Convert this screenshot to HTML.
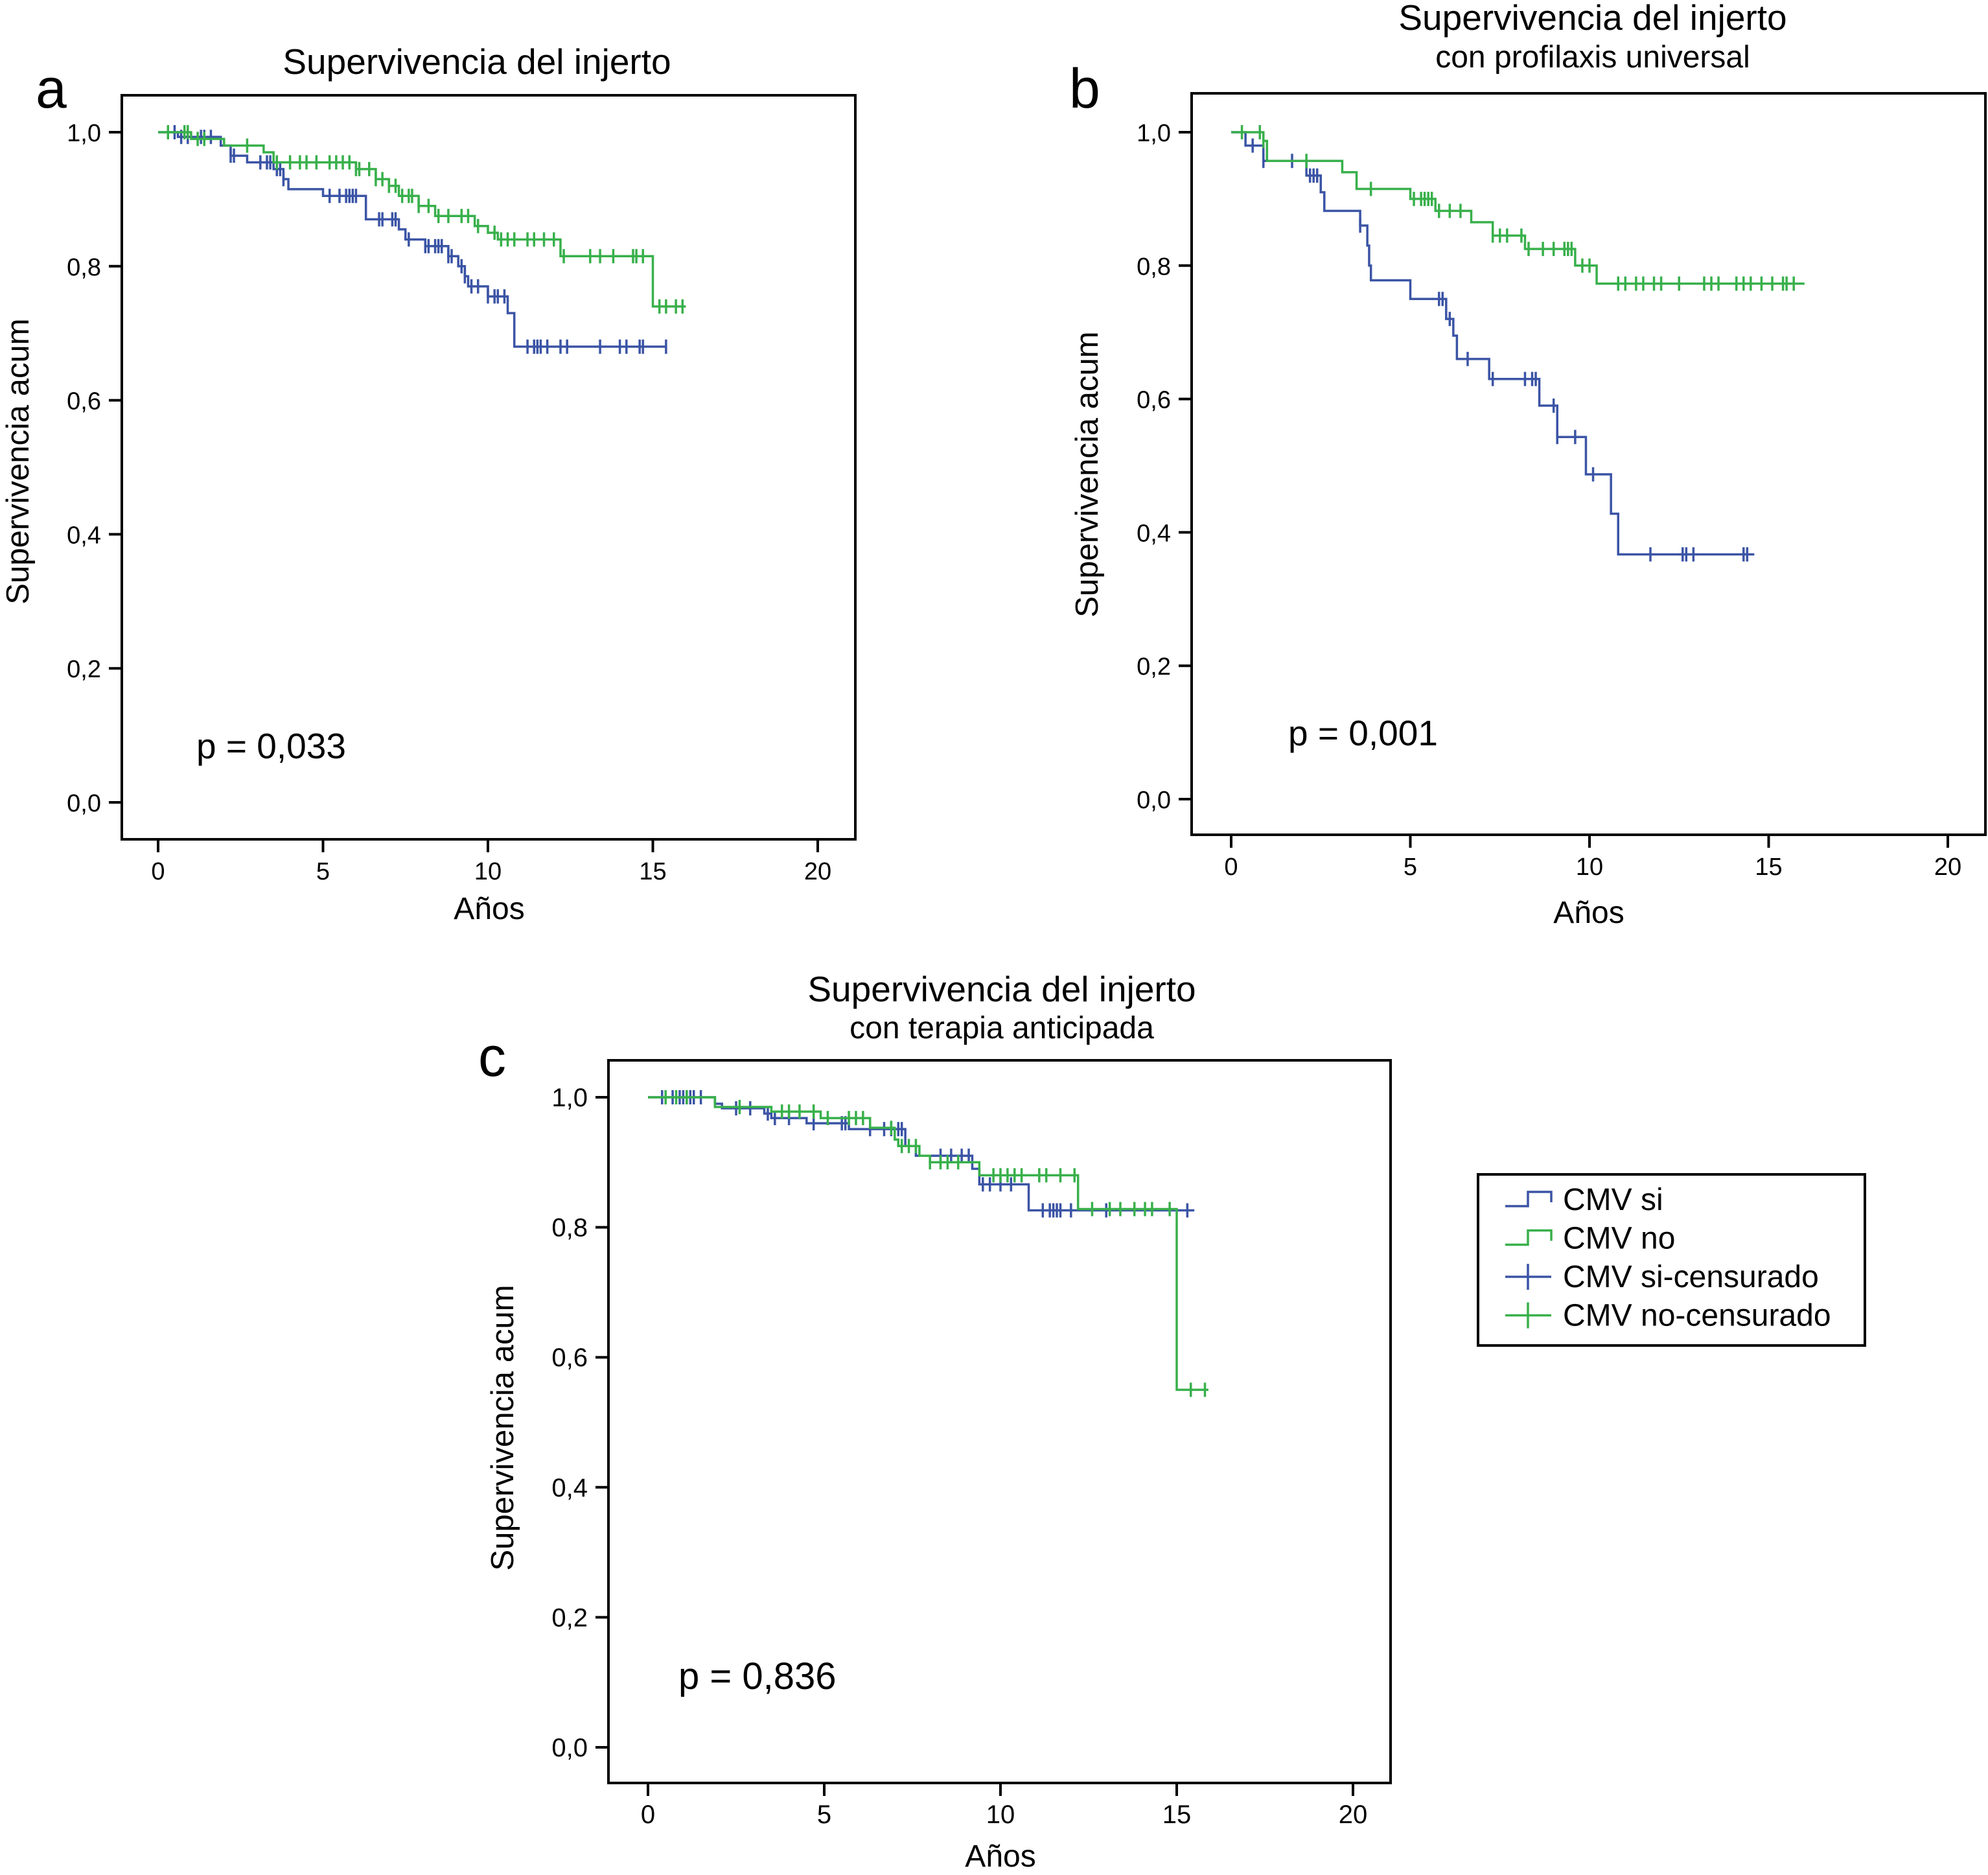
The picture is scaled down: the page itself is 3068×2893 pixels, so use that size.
<!DOCTYPE html>
<html><head><meta charset="utf-8"><style>
html,body{margin:0;padding:0;background:#fff;}
svg{display:block;}
text{font-family:"Liberation Sans",sans-serif;fill:#000;}
</style></head><body>
<svg id="fig" xmlns="http://www.w3.org/2000/svg" width="3068" height="2893" viewBox="0 0 3068 2893"></svg>
<script>
// ---------- DATA ----------
// Panel a
const aSiTimes = [0,0.6,1.9,2.2,2.7,3.5,3.8,3.95,5.0,6.3,7.3,7.5,8.1,8.8,9.1,9.3,9.4,10.0,10.6,10.8];
const aSiSurv  = [1.0,0.993,0.98,0.965,0.955,0.945,0.93,0.915,0.905,0.87,0.855,0.84,0.83,0.815,0.80,0.785,0.77,0.755,0.73,0.68];
const aSiEnd = 15.4;
const aSiCens = [0.5,0.7,0.9,1.3,1.4,1.6,2.2,2.3,3.1,3.3,3.4,3.6,3.7,3.8,5.2,5.5,5.7,5.8,5.9,6.0,6.7,6.8,7.1,7.2,7.6,8.1,8.2,8.4,8.5,8.6,8.8,8.9,9.2,9.3,9.5,9.7,10.0,10.2,10.3,10.5,11.2,11.4,11.5,11.6,11.8,12.2,12.4,13.4,14.0,14.2,14.6,14.7,15.4];
const aNoTimes = [0,1.0,2.0,3.2,3.5,6.0,6.6,7.0,7.3,7.9,8.4,9.6,10.0,10.3,12.2,15.0];
const aNoSurv  = [1.0,0.99,0.98,0.97,0.955,0.945,0.93,0.92,0.905,0.89,0.875,0.86,0.85,0.84,0.815,0.74];
const aNoEnd = 16.0;
const aNoCens = [0.3,0.8,0.9,1.2,1.4,2.7,3.6,4.0,4.3,4.5,4.8,5.2,5.4,5.6,5.8,6.0,6.1,6.4,6.6,6.8,7.0,7.2,7.4,7.6,7.7,7.9,8.2,8.5,8.8,9.2,9.4,9.7,10.2,10.4,10.6,10.8,11.2,11.4,11.7,12.0,12.3,13.1,13.4,13.8,14.4,14.5,14.7,15.2,15.4,15.7,15.9];
// Panel b
const bSiTimes = [0,0.4,0.9,2.1,2.5,2.6,3.6,3.8,3.85,3.9,5.0,6.0,6.2,6.3,7.2,8.6,9.1,9.9,10.6,10.8];
const bSiSurv  = [1.0,0.98,0.957,0.935,0.91,0.882,0.86,0.83,0.80,0.778,0.75,0.72,0.695,0.66,0.63,0.59,0.543,0.487,0.428,0.367];
const bSiEnd = 14.6;
const bSiCens = [0.6,0.9,1.7,2.2,2.3,2.4,3.6,5.8,5.9,6.1,6.6,7.3,8.2,8.4,8.5,9.0,9.1,9.6,10.1,11.7,12.6,12.7,12.9,14.3,14.4];
const bNoTimes = [0,0.9,1.0,3.1,3.5,5.0,5.7,6.7,7.3,8.2,9.6,10.2];
const bNoSurv  = [1.0,0.987,0.957,0.94,0.915,0.9,0.882,0.865,0.845,0.825,0.8,0.773];
const bNoEnd = 16.0;
const bNoCens = [0.3,0.8,0.9,2.1,3.9,5.1,5.3,5.4,5.5,5.6,5.8,6.1,6.4,7.3,7.5,7.7,8.1,8.3,8.7,9.0,9.3,9.4,9.5,9.8,10.0,10.8,11.0,11.3,11.5,11.8,12.0,12.5,13.2,13.4,13.6,14.1,14.3,14.5,14.8,15.1,15.4,15.5,15.7];
// Panel c
const cSiTimes = [0,1.9,2.1,3.3,3.5,4.5,5.7,7.3,7.6,9.2,9.4,10.8];
const cSiSurv  = [1.0,0.99,0.983,0.975,0.968,0.96,0.951,0.925,0.91,0.89,0.866,0.826];
const cSiEnd = 15.5;
const cSiCens = [0.4,0.7,0.9,1.0,1.1,1.2,1.3,1.5,2.5,2.9,3.4,3.6,4.0,4.7,5.5,5.6,6.3,6.7,6.9,7.1,7.2,8.3,8.6,8.9,9.1,9.5,9.7,10.0,10.3,11.2,11.4,11.5,11.6,11.7,12.0,13.0,15.3];
const cNoTimes = [0,1.9,3.5,4.9,6.3,7.0,7.1,7.7,8.0,9.4,12.2,15.0];
const cNoSurv  = [1.0,0.985,0.978,0.968,0.953,0.935,0.925,0.91,0.9,0.88,0.828,0.55];
const cNoEnd = 15.9;
const cNoCens = [0.5,0.8,1.1,2.6,3.8,4.0,4.3,4.7,5.1,5.7,5.9,6.1,6.9,7.2,7.4,7.6,8.0,8.3,8.5,8.8,9.8,10.0,10.2,10.4,10.6,11.1,11.3,11.7,12.1,12.6,13.1,13.4,13.8,14.1,14.3,14.8,15.4,15.8];
// Axis ticks
const xTicks = [0,5,10,15,20];
const yTicks = [0,0.2,0.4,0.6,0.8,1.0];
const yTickLabels = ["0,0","0,2","0,4","0,6","0,8","1,0"];

// ---------- DRAW ----------
const NS = "http://www.w3.org/2000/svg";
const svg = document.getElementById('fig');
const BLUE = "#3b54a5", GREEN = "#38b04b";
function mk(tag, attrs, parent){
  const e = document.createElementNS(NS, tag);
  for (const k in attrs) e.setAttribute(k, attrs[k]);
  (parent||svg).appendChild(e);
  return e;
}
function survAt(times, surv, t){
  let s = surv[0];
  for (let i=0;i<times.length;i++){ if (times[i] <= t) s = surv[i]; }
  return s;
}
function drawPanel(p){
  const g = mk('g', {});
  
  
  const sx = v => p.x0 + v * p.ux;
  const sy = v => p.y0 - v * (p.y0 - p.y1);
  const ts = p.tickSize || 38;
  function txt(str, x, y, size, anchor, name){
    const t = mk('text', {x: x, y: y, 'font-size': size, 'text-anchor': anchor || 'start'}, g);
    t.textContent = str;
    
    
    return t;
  }
  const r = mk('rect', {x:p.bx1, y:p.by1, width:p.bx2-p.bx1, height:p.by2-p.by1, fill:'none', stroke:'#000', 'stroke-width':4}, g);
  
  
  xTicks.forEach(v => {
    const l = mk('line', {x1:sx(v), x2:sx(v), y1:p.by2, y2:p.by2+20, stroke:'#000', 'stroke-width':4}, g);
    
    
    txt(String(v), sx(v), p.by2+62, ts, 'middle', 'x-tick-label');
  });
  yTicks.forEach((v,i) => {
    const l = mk('line', {x1:p.bx1-20, x2:p.bx1, y1:sy(v), y2:sy(v), stroke:'#000', 'stroke-width':4}, g);
    
    
    txt(yTickLabels[i], p.bx1-32, sy(v)+14, ts, 'end', 'y-tick-label');
  });
  p.titles.forEach(tt => txt(tt.s, tt.x, tt.y, tt.size, 'middle', tt.name));
  const L = mk('text', {x:p.letter[0], y:p.letter[1], 'font-size':86}, g);
  L.textContent = p.id;
  
  
  txt('Años', p.xt[0], p.xt[1], 48, 'middle', 'x-axis-title');
  const yt = mk('text', {x:0, y:0, 'font-size':49, 'text-anchor':'middle', transform:'translate(' + p.yt[0] + ',' + p.yt[1] + ') rotate(-90)'}, g);
  yt.textContent = 'Supervivencia acum';
  
  
  txt(p.pval, p.pv[0], p.pv[1], p.pSize || 55, 'start', 'p-value');
  p.series.forEach(s => {
    let d = 'M' + sx(s.times[0]) + ',' + sy(s.surv[0]);
    for (let i=1;i<s.times.length;i++){
      d += ' H' + sx(s.times[i]) + ' V' + sy(s.surv[i]);
    }
    d += ' H' + sx(s.end);
    const path = mk('path', {d:d, fill:'none', stroke:s.color, 'stroke-width':3.5}, g);
    
    
    s.cens.forEach(t => {
      const y = sy(survAt(s.times, s.surv, t));
      const m = mk('line', {x1:sx(t), x2:sx(t), y1:y-11, y2:y+11, stroke:s.color, 'stroke-width':3.5}, g);
      
      
    });
  });
}

drawPanel({id:'a', bx1:188, by1:147, bx2:1320, by2:1295, x0:244, ux:50.9, y1:204, y0:1238,
  titles:[{s:'Supervivencia del injerto', x:736, y:114, size:55, name:'chart-title'}],
  letter:[55,166], xt:[755,1418], yt:[44,712], pval:'p = 0,033', pv:[303,1170],
  series:[
    {name:'cmv-si', color:BLUE, times:aSiTimes, surv:aSiSurv, end:aSiEnd, cens:aSiCens},
    {name:'cmv-no', color:GREEN, times:aNoTimes, surv:aNoSurv, end:aNoEnd, cens:aNoCens}]});

drawPanel({id:'b', bx1:1839, by1:144, bx2:3064, by2:1288, x0:1900, ux:55.3, y1:204, y0:1233,
  titles:[{s:'Supervivencia del injerto', x:2458, y:46, size:55, name:'chart-title'},
          {s:'con profilaxis universal', x:2458, y:104, size:48, name:'chart-subtitle'}],
  letter:[1650,166], xt:[2452,1424], yt:[1694,732], pval:'p = 0,001', pv:[1988,1150],
  series:[
    {name:'cmv-si', color:BLUE, times:bSiTimes, surv:bSiSurv, end:bSiEnd, cens:bSiCens},
    {name:'cmv-no', color:GREEN, times:bNoTimes, surv:bNoSurv, end:bNoEnd, cens:bNoCens}]});

drawPanel({id:'c', tickSize:40, pSize:58, bx1:939, by1:1636, bx2:2146, by2:2751, x0:1000, ux:54.4, y1:1693, y0:2696,
  titles:[{s:'Supervivencia del injerto', x:1546, y:1545, size:55, name:'chart-title'},
          {s:'con terapia anticipada', x:1546, y:1602, size:48, name:'chart-subtitle'}],
  letter:[738,1660], xt:[1544,2880], yt:[792,2203], pval:'p = 0,836', pv:[1047,2606],
  series:[
    {name:'cmv-si', color:BLUE, times:cSiTimes, surv:cSiSurv, end:cSiEnd, cens:cSiCens},
    {name:'cmv-no', color:GREEN, times:cNoTimes, surv:cNoSurv, end:cNoEnd, cens:cNoCens}]});

// ---------- LEGEND ----------
const legendLabels = ['CMV si','CMV no','CMV si-censurado','CMV no-censurado'];
const legendColors = [BLUE, GREEN, BLUE, GREEN];
const lg = mk('g', {});


const lr = mk('rect', {x:2281, y:1812, width:597, height:264, fill:'none', stroke:'#000', 'stroke-width':4}, lg);


legendLabels.forEach((lab, i) => {
  const cy = 1851 + i * 59.5;
  let sym;
  if (i < 2) {
    sym = mk('path', {d:'M2323,' + (cy+10) + ' H2358 V' + (cy-12) + ' H2394 V' + (cy+4), fill:'none', stroke:legendColors[i], 'stroke-width':3.5}, lg);
  } else {
    sym = mk('path', {d:'M2323,' + cy + ' H2394 M2358,' + (cy-20) + ' V' + (cy+20), fill:'none', stroke:legendColors[i], 'stroke-width':3.5}, lg);
  }
  
  
  const t = mk('text', {x:2412, y:cy+16, 'font-size':48}, lg);
  t.textContent = lab;
  
  
});
</script>
</body></html>
